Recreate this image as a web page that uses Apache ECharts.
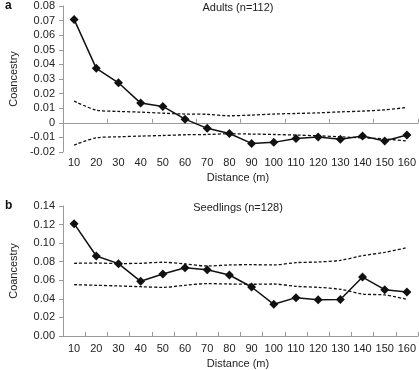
<!DOCTYPE html>
<html>
<head>
<meta charset="utf-8">
<script src="https://cdn.jsdelivr.net/npm/echarts@6/dist/echarts.min.js"></script>
<style>
  html, body { margin: 0; padding: 0; background: #fff; }
  #chart { width: 419px; height: 370px; }
</style>
</head>
<body>
<div id="chart"></div>
<script>
// distance classes (m)
const distances = ["10", "20", "30", "40", "50", "60", "70", "80", "90", "100", "110", "120", "130", "140", "150", "160"];

// panel a: adults
const adultsObs = [0.0708, 0.0373, 0.0274, 0.0135, 0.0112, 0.0025, -0.0038, -0.0073, -0.0141, -0.0134, -0.0107, -0.0098, -0.0112, -0.0091, -0.0125, -0.0084];
const adultsUpper = [0.0149, 0.0087, 0.0078, 0.0073, 0.0066, 0.006, 0.0058, 0.0048, 0.0053, 0.006, 0.0064, 0.0068, 0.0075, 0.008, 0.0089, 0.0105];
const adultsLower = [-0.0153, -0.0103, -0.0096, -0.0091, -0.0087, -0.0082, -0.008, -0.0075, -0.0077, -0.008, -0.0084, -0.0089, -0.0096, -0.0103, -0.011, -0.0125];

// panel b: seedlings
const seedlingsObs = [0.121, 0.0862, 0.0779, 0.0589, 0.0668, 0.0736, 0.0714, 0.0657, 0.0528, 0.0341, 0.0413, 0.0391, 0.0393, 0.0635, 0.0499, 0.0474];
const seedlingsUpper = [0.0783, 0.0786, 0.078, 0.0783, 0.0794, 0.0776, 0.0754, 0.0765, 0.0768, 0.0765, 0.079, 0.0797, 0.0815, 0.0865, 0.0901, 0.0951];
const seedlingsLower = [0.0553, 0.0546, 0.0539, 0.0531, 0.0524, 0.0546, 0.0564, 0.056, 0.0557, 0.056, 0.0535, 0.0524, 0.0503, 0.0452, 0.0442, 0.0395];

const chart = echarts.init(document.getElementById("chart"), null, { renderer: "canvas" });

const font = "Liberation Sans";
const textColor = "#222";
const axisColor = "#9a9a9a";

const obsSeries = (data, idx) => ({
  type: "line",
  data: data,
  xAxisIndex: idx === 0 ? 0 : 2,
  yAxisIndex: idx,
  symbol: "diamond",
  symbolSize: 9,
  lineStyle: { color: "#111", width: 1.5 },
  itemStyle: { color: "#111" },
  z: 3,
});

const envSeries = (data, idx) => ({
  type: "line",
  data: data,
  xAxisIndex: idx === 0 ? 0 : 2,
  yAxisIndex: idx,
  symbol: "none",
  smooth: 0.3,
  lineStyle: { color: "#111", width: 1.3, type: [3, 2] },
  z: 2,
});

const xLabel = { color: textColor, fontFamily: font, fontSize: 11, interval: 0, hideOverlap: false };
const xName = { color: textColor, fontFamily: font, fontSize: 11, verticalAlign: "top", padding: [0, 5, 0, 0] };

const yAxisBase = {
  type: "value",
  name: "Coancestry",
  nameLocation: "middle",
  nameGap: 44,
  nameTextStyle: { color: textColor, fontFamily: font, fontSize: 11 },
  axisLine: { show: true, lineStyle: { color: axisColor } },
  axisTick: { show: true, length: 4, lineStyle: { color: axisColor } },
  axisLabel: { color: textColor, fontFamily: font, fontSize: 11, margin: 8 },
  splitLine: { show: false },
};

const option = {
  animation: false,
  title: [
    { text: "Adults (n=112)", left: 233, top: -3, textAlign: "center",
      textStyle: { fontFamily: font, fontSize: 11, fontWeight: "normal", color: textColor } },
    { text: "Seedlings (n=128)", left: 233, top: 197, textAlign: "center",
      textStyle: { fontFamily: font, fontSize: 11, fontWeight: "normal", color: textColor } },
    { text: "a", left: 0, top: -5,
      textStyle: { fontFamily: font, fontSize: 12, fontWeight: "bold", color: "#111" } },
    { text: "b", left: 0, top: 195,
      textStyle: { fontFamily: font, fontSize: 12, fontWeight: "bold", color: "#111" } },
  ],
  grid: [
    { left: 52, right: 1, top: 6, height: 146 },
    { left: 52, right: 1, top: 206, height: 130 },
  ],
  xAxis: [
    {
      // zero line with ticks (panel a)
      type: "category",
      gridIndex: 0,
      data: distances,
      axisLine: { onZero: true, lineStyle: { color: axisColor } },
      axisTick: { show: true, inside: true, length: 4, lineStyle: { color: axisColor } },
      axisLabel: { show: false },
    },
    {
      // labels along the bottom (panel a)
      type: "category",
      gridIndex: 0,
      data: distances,
      position: "bottom",
      axisLine: { show: false, onZero: false },
      axisTick: { show: false },
      axisLabel: Object.assign({ margin: 5 }, xLabel),
      name: "Distance (m)",
      nameLocation: "middle",
      nameGap: 20,
      nameTextStyle: xName,
    },
    {
      type: "category",
      gridIndex: 1,
      data: distances,
      axisLine: { lineStyle: { color: axisColor } },
      axisTick: { show: true, inside: true, length: 4, lineStyle: { color: axisColor } },
      axisLabel: Object.assign({ margin: 7 }, xLabel),
      name: "Distance (m)",
      nameLocation: "middle",
      nameGap: 22,
      nameTextStyle: xName,
    },
  ],
  yAxis: [
    Object.assign({}, yAxisBase, {
      gridIndex: 0,
      min: -0.02,
      max: 0.08,
      interval: 0.01,
      axisLabel: Object.assign({}, yAxisBase.axisLabel, {
        formatter: (v) => (Math.abs(v) < 1e-9 ? "0" : v.toFixed(2)),
      }),
    }),
    Object.assign({}, yAxisBase, {
      gridIndex: 1,
      min: 0,
      max: 0.14,
      interval: 0.02,
      axisLabel: Object.assign({}, yAxisBase.axisLabel, {
        formatter: (v) => v.toFixed(2),
      }),
    }),
  ],
  series: [
    envSeries(adultsUpper, 0),
    envSeries(adultsLower, 0),
    obsSeries(adultsObs, 0),
    envSeries(seedlingsUpper, 1),
    envSeries(seedlingsLower, 1),
    obsSeries(seedlingsObs, 1),
  ],
};

chart.setOption(option);
</script>
</body>
</html>
